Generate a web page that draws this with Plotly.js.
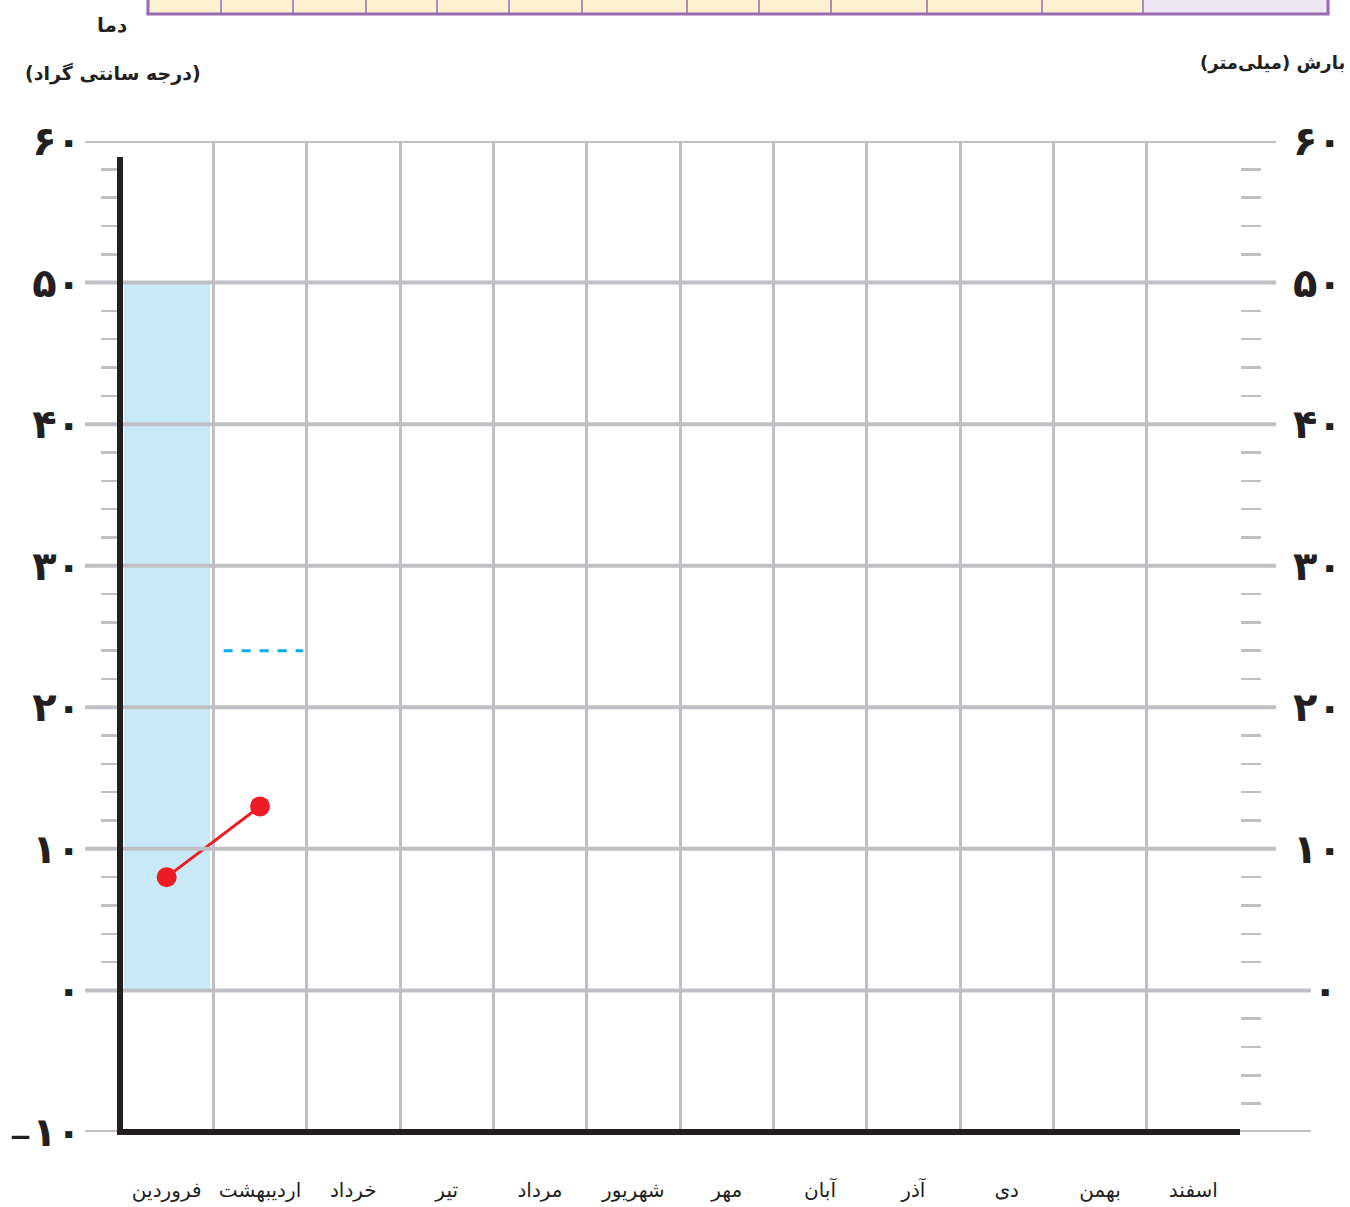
<!DOCTYPE html>
<html>
<head>
<meta charset="utf-8">
<script src="https://cdn.plot.ly/plotly-3.0.1.min.js"></script>
<style>html,body{margin:0;padding:0;background:#fff;}</style>
</head>
<body>
<div id="chart" style="width:1350px;height:1207px;"></div>
<script>
// ---- data ----
const months = ['فروردین','اردیبهشت','خرداد','تیر','مرداد','شهریور','مهر','آبان','آذر','دی','بهمن','اسفند'];
const precipitation = [50, null, null, null, null, null, null, null, null, null, null, null];
const precipitationDraft = [null, 24, null, null, null, null, null, null, null, null, null, null];
const temperature = [8, 13, null, null, null, null, null, null, null, null, null, null];
const leftTickVals = [-10, 0, 10, 20, 30, 40, 50, 60];
const leftTickText = ['<span style="font-size:28px">−</span>۱۰', '۰', '۱۰', '۲۰', '۳۰', '۴۰', '۵۰', '۶۰'];
const rightTickVals = [10, 20, 30, 40, 50, 60];
const rightTickText = ['۱۰', '۲۰', '۳۰', '۴۰', '۵۰', '۶۰'];

// ---- geometry helpers ----
const W = 1350, H = 1207, L = 120, R = 110, T = 141, B = 75;
const PW = W - L - R, PH = H - T - B;
const px = x => (x - L) / PW;      // pixel x -> paper
const py = y => (H - B - y) / PH;  // pixel y -> paper

const centers = months.map((m, i) => i + 0.5);
const GRID = '#c0c0c4';
const INK = '#231f20';
const FONT = 'DejaVu Sans, Noto Sans, sans-serif';

// draft segments
const draftX = [], draftY = [];
precipitationDraft.forEach((v, i) => {
  if (v !== null) { draftX.push(i + 0.11, i + 0.96, null); draftY.push(v, v, null); }
});

const traces = [
  {type: 'bar', x: centers, y: precipitation, width: 0.92, marker: {color: '#c8e9f8'},
   hoverinfo: 'skip', showlegend: false},
  {type: 'scatter', mode: 'lines', x: draftX, y: draftY, line: {color: '#00aeef', width: 3, dash: 'dash'},
   hoverinfo: 'skip', showlegend: false, connectgaps: false},
  {type: 'scatter', mode: 'lines+markers', x: centers, y: temperature,
   line: {color: '#ed1c24', width: 3}, marker: {color: '#ed1c24', size: 20},
   hoverinfo: 'skip', showlegend: false},
  {type: 'scatter', mode: 'markers', x: [0], y: [0], yaxis: 'y2', marker: {opacity: 0},
   hoverinfo: 'skip', showlegend: false}
];

const shapes = [];
// top table (cut off at the top edge)
const sep = [148, 221, 293, 366, 437, 509, 582, 687, 759, 831, 927, 1042, 1143, 1328];
shapes.push({type: 'rect', xref: 'paper', yref: 'paper', x0: px(148), x1: px(1143), y0: py(14), y1: py(-40),
  fillcolor: '#fef2d1', line: {width: 0}, layer: 'above'});
shapes.push({type: 'rect', xref: 'paper', yref: 'paper', x0: px(1143), x1: px(1328), y0: py(14), y1: py(-40),
  fillcolor: '#ede6f4', line: {width: 0}, layer: 'above'});
sep.forEach((s, i) => {
  const w = (i === 0 || i === sep.length - 1) ? 3 : 1.5;
  shapes.push({type: 'line', xref: 'paper', yref: 'paper', x0: px(s), x1: px(s), y0: py(14), y1: py(-40),
    line: {color: '#9a6ab0', width: w}, layer: 'above'});
});
shapes.push({type: 'line', xref: 'paper', yref: 'paper', x0: px(146.5), x1: px(1329.5), y0: py(14), y1: py(14),
  line: {color: '#9a6ab0', width: 3}, layer: 'above'});

// horizontal grid lines (drawn over the bar, as in the reference)
leftTickVals.forEach(v => {
  const right = (v <= 0) ? px(1311) : px(1276);
  shapes.push({type: 'line', xref: 'paper', yref: 'y', x0: px(85), x1: right, y0: v, y1: v,
    line: {color: GRID, width: 4}, layer: 'above'});
});
// black axes
shapes.push({type: 'line', xref: 'paper', yref: 'paper', x0: 0, x1: 0, y0: py(157), y1: py(1135),
  line: {color: INK, width: 6}, layer: 'above'});
shapes.push({type: 'line', xref: 'paper', yref: 'paper', x0: px(117), x1: 1, y0: 0, y1: 0,
  line: {color: INK, width: 6}, layer: 'above'});

const annotations = [
  {text: '<b>دما</b>', xref: 'paper', yref: 'paper', x: px(112), y: py(25), xanchor: 'center', yanchor: 'middle',
   showarrow: false, font: {family: FONT, size: 20, color: INK}},
  {text: '<b>\u200F(درجه سانتی گراد)\u200F</b>', xref: 'paper', yref: 'paper', x: px(113), y: py(73),
   xanchor: 'center', yanchor: 'middle', showarrow: false, font: {family: FONT, size: 19, color: INK}},
  {text: '<b>\u200Fبارش (میلی‌متر)\u200F</b>', xref: 'paper', yref: 'paper', x: px(1272), y: py(63),
   xanchor: 'center', yanchor: 'middle', showarrow: false, font: {family: FONT, size: 18, color: INK}},
  {text: '<b>۰</b>', xref: 'paper', yref: 'y', x: px(1325), y: 0, xanchor: 'center', yanchor: 'middle',
   showarrow: false, font: {family: FONT, size: 40, color: INK}}
];

const minorLeft = [], minorRight = [];
for (let v = -8; v < 60; v += 2) {
  if (v % 10 === 0) continue;
  if (v > 0) minorLeft.push(v);
  minorRight.push(v);
}

const layout = {
  width: W, height: H,
  margin: {l: L, r: R, t: T, b: B, pad: 0},
  paper_bgcolor: '#ffffff', plot_bgcolor: '#ffffff',
  showlegend: false,
  bargap: 0,
  xaxis: {
    range: [0, 12], fixedrange: true,
    tickmode: 'array', tickvals: centers, ticktext: months,
    ticks: '', showgrid: false, zeroline: false, showline: false,
    tickfont: {family: FONT, size: 20, color: INK},
    ticklabelstandoff: 44,
    minor: {tickmode: 'linear', tick0: 0, dtick: 1, showgrid: true, gridcolor: GRID, gridwidth: 3, ticks: ''}
  },
  yaxis: {
    range: [-10, 60], fixedrange: true,
    tickmode: 'array', tickvals: leftTickVals, ticktext: leftTickText,
    ticks: 'outside', ticklen: 30, tickwidth: 4, tickcolor: 'rgba(0,0,0,0)',
    showgrid: false, zeroline: false, showline: false,
    tickfont: {family: FONT, size: 40, color: INK, weight: 'bold'},
    minor: {tickmode: 'array', tickvals: minorLeft, ticks: 'outside', ticklen: 18, tickwidth: 2.5, tickcolor: GRID, showgrid: false}
  },
  yaxis2: {
    range: [-10, 60], fixedrange: true, overlaying: 'y', side: 'right',
    tickmode: 'array', tickvals: rightTickVals, ticktext: rightTickText,
    ticks: 'outside', ticklen: 44, tickwidth: 4, tickcolor: 'rgba(0,0,0,0)',
    showgrid: false, zeroline: false, showline: false,
    tickfont: {family: FONT, size: 40, color: INK, weight: 'bold'},
    minor: {tickmode: 'array', tickvals: minorRight, ticks: 'outside', ticklen: 20, tickwidth: 2.5, tickcolor: GRID, showgrid: false}
  },
  shapes: shapes,
  annotations: annotations
};

Plotly.newPlot('chart', traces, layout, {staticPlot: true, displayModeBar: false});
</script>
</body>
</html>
